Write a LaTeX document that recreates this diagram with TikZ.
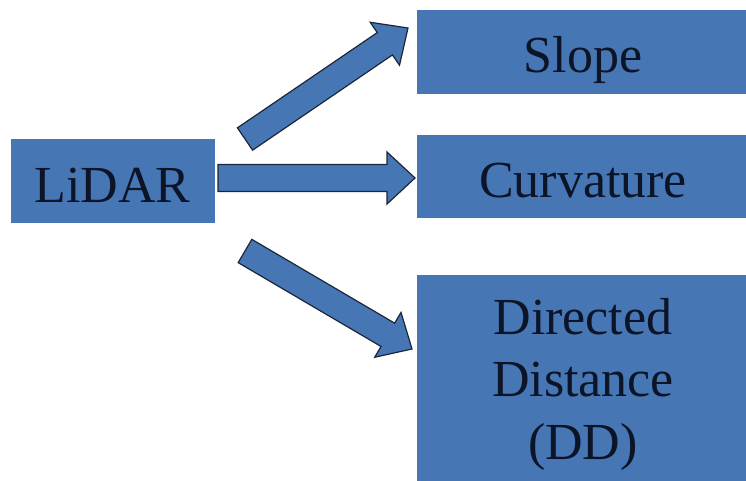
\documentclass[tikz,border=0pt]{standalone}
\usepackage{fontspec}
\setmainfont{Liberation Serif}
\usepackage{tikz}
\usetikzlibrary{calc}
\definecolor{boxblue}{RGB}{70,118,180}
\definecolor{textnavy}{RGB}{12,20,40}
\definecolor{edgedark}{RGB}{28,38,58}
\tikzstyle{bluebox} = [rectangle, fill=boxblue, draw=boxblue, text=textnavy, inner sep=0pt, align=center, font=\fontsize{52}{62.5}\selectfont]
\tikzstyle{oneline} = [text height=44pt, text depth=1pt]
\tikzstyle{bigarrow} = [fill=boxblue, draw=edgedark, line width=1.2pt, line join=miter,
  to path={($(\tikztotarget)!28pt!(\tikztostart)$) coordinate (hb)
    ($(\tikztostart)!13.5pt!90:(\tikztotarget)$) -- ($(hb)!13.5pt!-90:(\tikztostart)$)
    -- ($(hb)!26pt!-90:(\tikztostart)$) -- (\tikztotarget)
    -- ($(hb)!26pt!90:(\tikztostart)$) -- ($(hb)!13.5pt!90:(\tikztostart)$)
    -- ($(\tikztostart)!13.5pt!-90:(\tikztotarget)$) -- cycle}]

\begin{document}
\begin{tikzpicture}[x=1pt, y=-1pt]

        \useasboundingbox (0,0) rectangle (746,481);

        \node (lidar) [bluebox, oneline, minimum width=203pt, minimum height=83pt] at (112.5,180.5) {LiDAR};

        \node (slope) [bluebox, oneline, minimum width=332pt, minimum height=83pt] at (583,51.5) {Slope};
        \node (curv) [bluebox, oneline, minimum width=332pt, minimum height=82pt] at (583,176) {Curvature};
        \node (dd) [bluebox, minimum width=332pt, minimum height=218pt] at (583,384) {Directed\\Distance\\(DD)};

        \coordinate (upTail) at (245,139);
        \coordinate (upTip) at (408,28);
        \coordinate (midTail) at (218,178);
        \coordinate (midTip) at (415,178);
        \coordinate (downTail) at (245,251);
        \coordinate (downTip) at (412,349);

        \draw[bigarrow] (upTail) to (upTip);
        \draw[bigarrow] (midTail) to (midTip);
        \draw[bigarrow] (downTail) to (downTip);

    \end{tikzpicture}
\end{document}
